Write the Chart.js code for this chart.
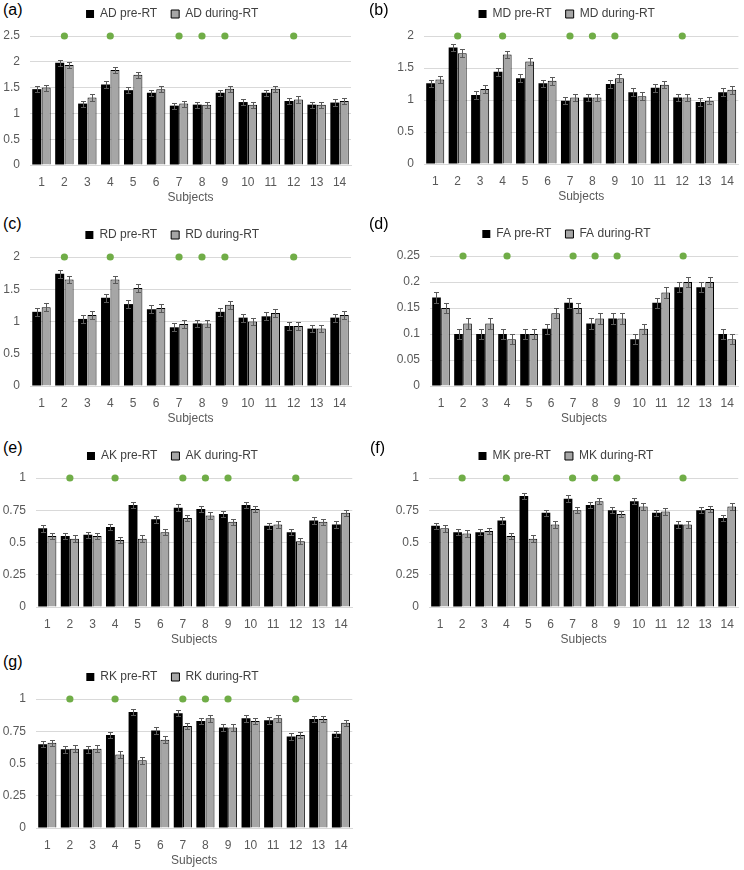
<!DOCTYPE html>
<html>
<head>
<meta charset="utf-8">
<script src="https://cdn.jsdelivr.net/npm/chart.js@4.4.0/dist/chart.umd.min.js"></script>
<style>
    body { margin: 0; background: #fff; }
    #page { position: relative; width: 744px; height: 870px; overflow: hidden; background: #fff; }
    #page canvas { position: absolute; }
    .tag { position: absolute; font: 16px "Liberation Sans", Arial, sans-serif; color: #000; line-height: 18px; }
</style>
</head>
<body>
<div id="page"></div>
<script>
// Data
const subjects = ['1', '2', '3', '4', '5', '6', '7', '8', '9', '10', '11', '12', '13', '14'];
const sigSubjects = [2, 4, 7, 8, 9, 12];   // green dots

const adPre    = [1.47, 1.98, 1.19, 1.56, 1.45, 1.40, 1.15, 1.17, 1.40, 1.22, 1.40, 1.24, 1.17, 1.21];
const adDuring = [1.50, 1.94, 1.31, 1.84, 1.75, 1.47, 1.19, 1.17, 1.48, 1.17, 1.48, 1.27, 1.17, 1.24];
const mdPre    = [1.26, 1.82, 1.08, 1.44, 1.34, 1.26, 0.99, 1.04, 1.25, 1.12, 1.19, 1.04, 0.97, 1.12];
const mdDuring = [1.32, 1.73, 1.17, 1.71, 1.60, 1.30, 1.04, 1.04, 1.34, 1.06, 1.24, 1.04, 0.99, 1.16];
const rdPre    = [1.15, 1.74, 1.04, 1.37, 1.27, 1.19, 0.91, 0.97, 1.15, 1.06, 1.08, 0.93, 0.89, 1.06];
const rdDuring = [1.22, 1.65, 1.10, 1.65, 1.52, 1.21, 0.96, 0.97, 1.26, 1.00, 1.13, 0.93, 0.89, 1.10];
const faPre    = [0.17, 0.10, 0.10, 0.10, 0.10, 0.11, 0.16, 0.12, 0.13, 0.09, 0.16, 0.19, 0.19, 0.10];
const faDuring = [0.15, 0.12, 0.12, 0.09, 0.10, 0.14, 0.15, 0.13, 0.13, 0.11, 0.18, 0.20, 0.20, 0.09];
const akPre    = [0.61, 0.55, 0.56, 0.62, 0.79, 0.68, 0.77, 0.76, 0.72, 0.79, 0.63, 0.58, 0.67, 0.64];
const akDuring = [0.55, 0.53, 0.55, 0.52, 0.53, 0.58, 0.69, 0.71, 0.66, 0.76, 0.64, 0.51, 0.66, 0.73];
const mkPre    = [0.63, 0.58, 0.58, 0.67, 0.86, 0.73, 0.84, 0.79, 0.75, 0.82, 0.73, 0.64, 0.75, 0.69];
const mkDuring = [0.61, 0.57, 0.59, 0.55, 0.53, 0.64, 0.75, 0.82, 0.72, 0.78, 0.74, 0.64, 0.76, 0.78];
const rkPre    = [0.65, 0.61, 0.61, 0.72, 0.90, 0.755, 0.89, 0.83, 0.78, 0.85, 0.835, 0.71, 0.845, 0.73];
const rkDuring = [0.66, 0.615, 0.615, 0.57, 0.525, 0.685, 0.79, 0.85, 0.78, 0.83, 0.85, 0.72, 0.845, 0.815];

const measures = ['AD', 'MD', 'RD', 'FA', 'AK', 'MK', 'RK'];
const preSeries = [adPre, mdPre, rdPre, faPre, akPre, mkPre, rkPre];
const duringSeries = [adDuring, mdDuring, rdDuring, faDuring, akDuring, mkDuring, rkDuring];
const axisMax = [2.5, 2, 2, 0.25, 1, 1, 1];
const axisStep = [0.5, 0.5, 0.5, 0.05, 0.25, 0.25, 0.25];
const errSize = [0.06, 0.06, 0.06, 0.01, 0.025, 0.025, 0.025];

// Layout: canvas box on the page and the wanted plot area inside it
const boxes = [
    { tag: '(a)', tx: 3,   ty: 1,   left: 0,   top: 0,   w: 372, h: 210, area: [30, 36, 346, 165] },
    { tag: '(b)', tx: 369, ty: 1,   left: 372, top: 0,   w: 372, h: 210, area: [52, 36, 369, 164] },
    { tag: '(c)', tx: 3,   ty: 215, left: 0,   top: 210, w: 372, h: 215, area: [30, 47, 346, 176] },
    { tag: '(d)', tx: 369, ty: 215, left: 372, top: 210, w: 372, h: 215, area: [58, 46, 369, 176] },
    { tag: '(e)', tx: 3,   ty: 439, left: 0,   top: 430, w: 372, h: 215, area: [36, 48, 347, 177] },
    { tag: '(f)', tx: 370, ty: 439, left: 372, top: 430, w: 372, h: 215, area: [57, 48, 369, 177] },
    { tag: '(g)', tx: 3,   ty: 653, left: 0,   top: 640, w: 372, h: 230, area: [36, 59, 347, 188] }
];

const FONT = '"Liberation Sans", Arial, sans-serif';

// extra room under the legend
const legendGap = {
    id: 'legendGap',
    beforeInit(chart) {
        if (!chart.legend) return;
        const fit = chart.legend.fit;
        chart.legend.fit = function() {
            fit.call(this);
            this.height += 6;
        };
    }
};

// error bars on top of each bar
const errorBars = {
    id: 'errorBars',
    afterDatasetsDraw(chart) {
        const ctx = chart.ctx;
        const y = chart.scales.y;
        ctx.save();
        ctx.strokeStyle = '#5a5a5a';
        ctx.lineWidth = 1;
        chart.data.datasets.forEach((ds, di) => {
            if (!ds.err) return;
            chart.getDatasetMeta(di).data.forEach((bar, i) => {
                const v = ds.data[i];
                const x = Math.round(bar.x) + 0.5;
                const top = Math.round(y.getPixelForValue(v + ds.err)) + 0.5;
                const bot = Math.round(y.getPixelForValue(v - ds.err)) + 0.5;
                ctx.beginPath();
                ctx.moveTo(x, top); ctx.lineTo(x, bot);
                ctx.moveTo(x - 2.5, top); ctx.lineTo(x + 2.5, top);
                ctx.moveTo(x - 2.5, bot); ctx.lineTo(x + 2.5, bot);
                ctx.stroke();
            });
        });
        ctx.restore();
    }
};

function makeConfig(k, padding) {
    const name = measures[k];
    const dots = subjects.map((s, i) => sigSubjects.includes(i + 1) ? axisMax[k] : null);
    return {
        type: 'bar',
        data: {
            labels: subjects,
            datasets: [{
                label: name + ' pre-RT',
                data: preSeries[k],
                err: errSize[k],
                backgroundColor: '#000000',
                borderColor: '#000000',
                borderWidth: 0,
                categoryPercentage: 0.82,
                barPercentage: 0.96
            }, {
                label: name + ' during-RT',
                data: duringSeries[k],
                err: errSize[k],
                backgroundColor: '#a6a6a6',
                borderColor: '#000000',
                borderWidth: 1,
                categoryPercentage: 0.82,
                barPercentage: 0.96
            }, {
                type: 'line',
                label: 'significant',
                data: dots,
                showLine: false,
                clip: false,
                pointRadius: 3.6,
                pointBackgroundColor: '#70ad47',
                pointBorderWidth: 0
            }]
        },
        options: {
            responsive: false,
            animation: false,
            layout: { padding: padding },
            plugins: {
                tooltip: { enabled: false },
                legend: {
                    position: 'top',
                    labels: {
                        boxWidth: 8,
                        boxHeight: 8,
                        padding: 14,
                        color: '#404040',
                        font: { family: FONT, size: 12 },
                        filter: item => item.datasetIndex < 2
                    }
                }
            },
            scales: {
                x: {
                    grid: { display: false, drawTicks: false },
                    border: { color: '#d9d9d9' },
                    ticks: { color: '#595959', padding: 10, font: { family: FONT, size: 12 }, maxRotation: 0 },
                    title: {
                        display: true,
                        text: 'Subjects',
                        color: '#595959',
                        font: { family: FONT, size: 12 },
                        padding: { top: -9, bottom: 0 }
                    }
                },
                y: {
                    min: 0,
                    max: axisMax[k],
                    grid: { color: '#d9d9d9', drawTicks: false },
                    border: { display: false },
                    ticks: {
                        stepSize: axisStep[k],
                        padding: 10,
                        color: '#595959',
                        font: { family: FONT, size: 12 },
                        callback: value => String(+value.toFixed(2))
                    }
                }
            }
        },
        plugins: [legendGap, errorBars]
    };
}

const page = document.getElementById('page');

boxes.forEach((b, k) => {
    const tag = document.createElement('div');
    tag.className = 'tag';
    tag.style.left = b.tx + 'px';
    tag.style.top = b.ty + 'px';
    tag.textContent = b.tag;
    page.appendChild(tag);

    const canvas = document.createElement('canvas');
    canvas.width = b.w;
    canvas.height = b.h;
    canvas.style.left = b.left + 'px';
    canvas.style.top = b.top + 'px';
    canvas.style.width = b.w + 'px';
    canvas.style.height = b.h + 'px';
    page.appendChild(canvas);

    // first pass to measure, second pass with the padding that puts the plot area in place
    let pad = { left: 0, top: 0, right: 0, bottom: 0 };
    let chart = new Chart(canvas, makeConfig(k, pad));
    const a = chart.chartArea;
    pad = {
        left: b.area[0] - a.left,
        top: b.area[1] - a.top,
        right: a.right - b.area[2],
        bottom: a.bottom - b.area[3]
    };
    chart.destroy();
    canvas.width = b.w;
    canvas.height = b.h;
    chart = new Chart(canvas, makeConfig(k, pad));
});
</script>
</body>
</html>
